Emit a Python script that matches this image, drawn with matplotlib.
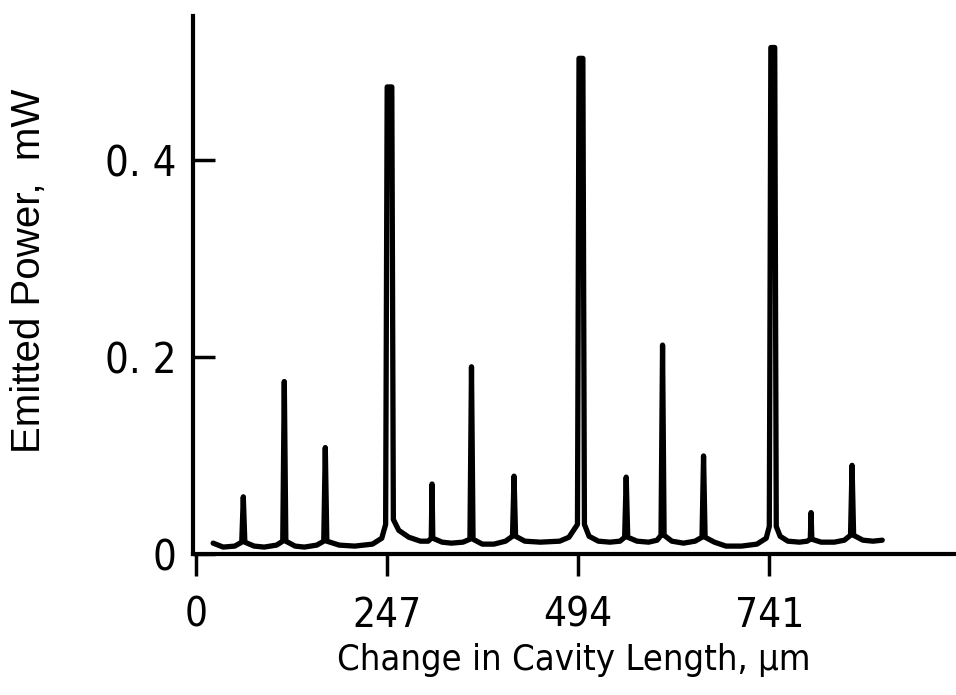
import matplotlib
matplotlib.use('Agg')
import matplotlib.pyplot as plt

# trace: change in cavity length (um) vs emitted power (mW)
trace_um = [22, 35, 50, 59, 61, 63, 75, 88, 104, 112, 114, 116, 128, 140, 156, 165, 167, 169,
            185, 205, 228, 240, 245, 247, 253, 255, 262, 275, 290, 300, 304, 305, 306,
            318, 330, 345, 354, 356, 358, 370, 385, 400, 409, 411, 413, 425, 445, 470,
            482, 493, 495, 500, 502, 508, 520, 535, 548, 554, 556, 558, 570, 585, 596,
            601, 603, 605, 615, 630, 645, 654, 656, 658, 670, 685, 705, 725, 737, 741,
            743, 748, 750, 755, 765, 780, 790, 794, 795, 796, 808, 825, 838, 846, 848,
            850, 862, 875, 887]
trace_mw = [0.011, 0.007, 0.008, 0.012, 0.058, 0.012, 0.008, 0.007, 0.009, 0.013, 0.175, 0.013,
            0.008, 0.007, 0.009, 0.013, 0.108, 0.013,
            0.009, 0.008, 0.010, 0.016, 0.030, 0.474, 0.474, 0.035, 0.024, 0.017, 0.013,
            0.013, 0.016, 0.071, 0.016,
            0.012, 0.011, 0.012, 0.015, 0.190, 0.015, 0.010, 0.010, 0.013, 0.018, 0.079,
            0.018, 0.013, 0.012, 0.013,
            0.017, 0.030, 0.503, 0.503, 0.030, 0.018, 0.013, 0.012, 0.013, 0.017, 0.078,
            0.017, 0.013, 0.012, 0.014,
            0.019, 0.212, 0.019, 0.013, 0.011, 0.013, 0.017, 0.0995, 0.017, 0.012, 0.008,
            0.008, 0.010, 0.016, 0.028,
            0.514, 0.514, 0.028, 0.018, 0.013, 0.012, 0.013, 0.015, 0.042, 0.015, 0.012,
            0.012, 0.014, 0.019, 0.090,
            0.019, 0.014, 0.013, 0.014]

x_ticks = [0, 247, 494, 741]
x_ticklabels = ['0', '247', '494', '741']
y_ticks = [0, 0.2, 0.4]
y_ticklabels = ['0', '0. 2', '0. 4']

# condensed face for the numbers and the x label, like the original lettering
narrow = dict(family='DejaVu Sans', stretch='condensed')

fig = plt.figure(figsize=(9.56, 6.95), dpi=100)
ax = fig.add_axes([0.2019, 0.2029, 0.797, 0.7741])

ax.plot(trace_um, trace_mw, color='black', lw=3.8,
        solid_joinstyle='round', solid_capstyle='round')

ax.set_xlim(-4, 981)
ax.set_ylim(0, 0.546)

for side in ['top', 'right']:
    ax.spines[side].set_visible(False)
for side in ['left', 'bottom']:
    ax.spines[side].set_linewidth(3)

ax.set_xticks(x_ticks)
ax.set_xticklabels(x_ticklabels, fontsize=29, **narrow)
ax.set_yticks(y_ticks)
ax.set_yticklabels(y_ticklabels, fontsize=30, **narrow)
ax.tick_params(axis='x', direction='out', length=16, width=2.5, pad=14)
ax.tick_params(axis='y', direction='in', length=16, width=2.5, pad=12)

ax.set_xlabel('Change in Cavity Length, µm', fontsize=26, labelpad=5, **narrow)
ax.set_ylabel('Emitted Power,  mW', family=['Liberation Sans', 'DejaVu Sans'], fontsize=29)
ax.yaxis.set_label_coords(-0.19, 0.526)

fig.savefig('out.png', dpi=100)
